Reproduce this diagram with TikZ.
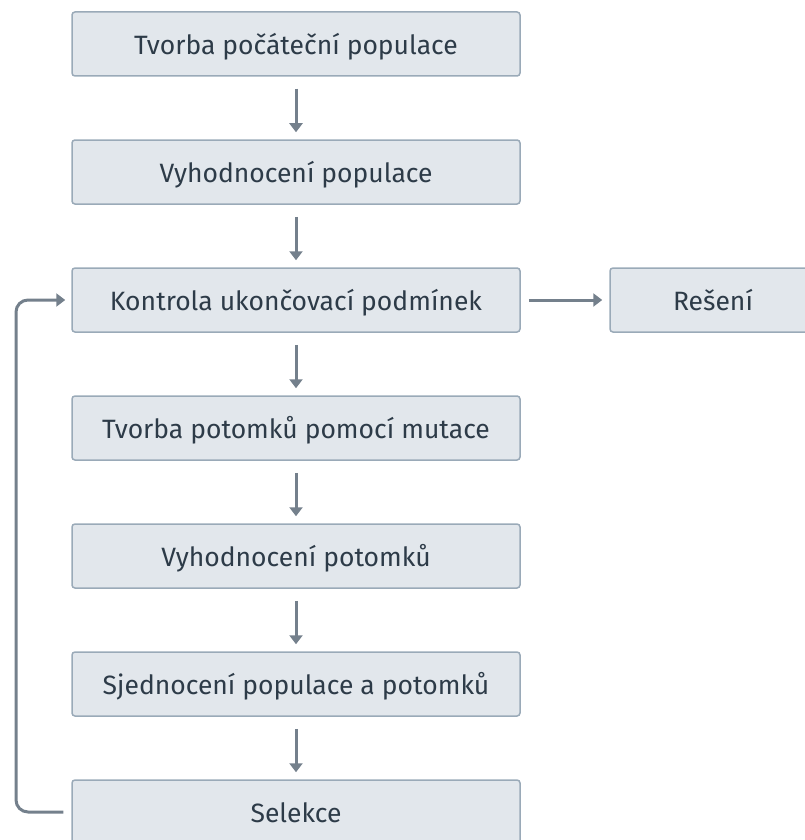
\documentclass[tikz,border=0pt]{standalone}
\usepackage{fontspec}
\setmainfont{Fira Sans}
\usetikzlibrary{arrows.meta}
\definecolor{boxfill}{HTML}{E2E7EC}
\definecolor{boxline}{HTML}{9AAAB8}
\definecolor{flow}{HTML}{74808C}
\definecolor{ink}{HTML}{2D3B48}
\begin{document}
\begin{tikzpicture}[x=1pt,y=-1pt,
  stepbox/.style={draw=boxline,fill=boxfill,line width=1.5pt,rounded corners=3pt,
    minimum width=448pt,minimum height=64pt,inner sep=0pt,text=ink,
    text height=23pt,text depth=2pt,
    font=\fontsize{26.5}{30}\selectfont},
  flowarrow/.style={draw=flow,line width=3pt,-{Triangle[length=9pt,width=13pt]}}]
\useasboundingbox (0,0) rectangle (804,840);
\node[stepbox] (init) at (296,44) {Tvorba počáteční populace};
\node[stepbox] (eval) at (296,172) {Vyhodnocení populace};
\node[stepbox] (check) at (296,300) {Kontrola ukončovací podmínek};
\node[stepbox] (mut) at (296,428) {Tvorba potomků pomocí mutace};
\node[stepbox] (evoff) at (296,556) {Vyhodnocení potomků};
\node[stepbox] (union) at (296,684) {Sjednocení populace a potomků};
\node[stepbox] (sel) at (296,812) {Selekce};
\node[stepbox,minimum width=206pt] (sol) at (713,300) {Rešení};
\foreach \a/\b in {init/eval,eval/check,check/mut,mut/evoff,evoff/union,union/sel}
  \draw[flowarrow] ([yshift=-12pt]\a.south) -- ([yshift=7pt]\b.north);
\draw[flowarrow] ([xshift=8pt]check.east) -- ([xshift=-7pt]sol.west);
\draw[flowarrow,rounded corners=12pt] ([xshift=-8pt]sel.west) -| (16,300) -- ([xshift=-6pt]check.west);
\end{tikzpicture}
\end{document}
